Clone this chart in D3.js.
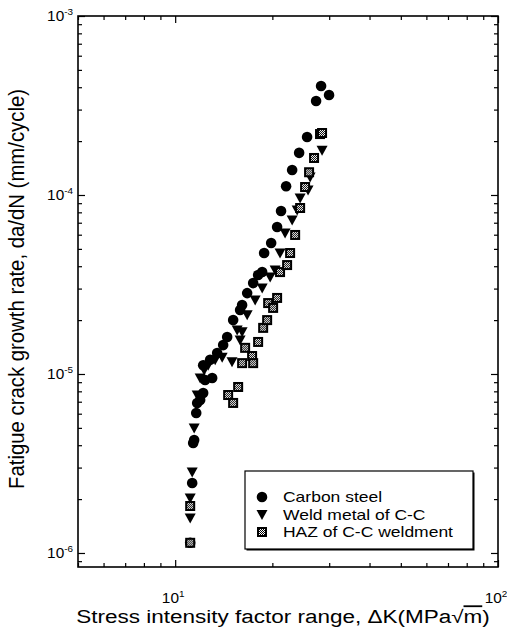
<!DOCTYPE html>
<html>
<head>
<meta charset="utf-8">
<script src="https://cdn.jsdelivr.net/npm/d3@7"></script>
<style>
  body { margin: 0; background: #fff; }
  text { font-family: "Liberation Sans", Arial, sans-serif; fill: #000; }
</style>
</head>
<body>
<svg id="chart" width="507" height="635"></svg>
<script>
// data: [deltaK (MPa sqrt m), da/dN (mm/cycle)]
var carbonSteel = [
  [11.13, 1.14e-6], [11.29, 2.46e-6], [11.37, 4.12e-6], [11.45, 4.28e-6], [11.62, 6.05e-6],
  [11.70, 6.89e-6], [11.95, 7.16e-6], [12.21, 7.83e-6], [12.38, 9.26e-6], [13.02, 9.50e-6],
  [12.21, 1.12e-5], [12.83, 1.20e-5], [13.49, 1.31e-5], [14.08, 1.45e-5], [14.49, 1.61e-5],
  [15.12, 2.00e-5], [15.89, 2.28e-5], [16.12, 2.43e-5], [16.71, 2.83e-5], [17.44, 3.22e-5],
  [18.07, 3.57e-5], [18.60, 3.71e-5], [18.86, 4.74e-5], [19.83, 5.39e-5], [20.69, 6.63e-5],
  [21.28, 8.14e-5], [22.06, 1.12e-4], [23.03, 1.38e-4], [24.21, 1.72e-4], [25.62, 2.11e-4],
  [27.32, 3.35e-4], [28.31, 4.06e-4], [29.97, 3.62e-4]
];
var weldMetal = [
  [11.13, 1.57e-6], [11.13, 2.03e-6], [11.29, 2.83e-6], [11.45, 4.99e-6], [11.70, 7.63e-6],
  [11.95, 9.50e-6], [12.30, 1.053e-5], [12.65, 1.12e-5], [13.30, 1.20e-5], [13.98, 1.24e-5],
  [15.00, 1.17e-5], [15.56, 1.76e-5], [15.89, 1.55e-5], [16.12, 1.72e-5], [16.71, 2.14e-5],
  [17.69, 2.59e-5], [18.60, 3.02e-5], [19.69, 3.48e-5], [20.40, 3.81e-5], [21.13, 4.74e-5],
  [21.90, 6.13e-5], [23.03, 7.25e-5], [23.87, 8.24e-5], [24.38, 9.62e-5], [25.80, 1.066e-4],
  [26.18, 1.26e-4], [28.51, 1.78e-4]
];
var hazWeldment = [
  [11.13, 1.14e-6], [11.13, 1.83e-6], [14.59, 7.63e-6], [15.12, 6.89e-6], [15.67, 8.46e-6],
  [16.12, 1.15e-5], [16.47, 1.40e-5], [17.31, 1.26e-5], [17.44, 1.15e-5], [18.07, 1.51e-5],
  [18.73, 1.81e-5], [19.27, 2.00e-5], [19.41, 2.49e-5], [20.11, 2.34e-5], [20.69, 2.66e-5],
  [21.13, 3.71e-5], [22.22, 4.06e-5], [22.70, 4.74e-5], [23.53, 5.98e-5], [24.38, 8.46e-5],
  [25.26, 1.108e-4], [25.99, 1.34e-4], [26.93, 1.61e-4], [28.10, 2.19e-4], [28.51, 2.22e-4]
];
var seriesNames = ["Carbon steel", "Weld metal of C-C", "HAZ of C-C weldment"];
var xMajor = [10, 100];
var xMajorLabels = ["1", "2"];
var yMajor = [1e-6, 1e-5, 1e-4, 1e-3];
var yMajorLabels = ["-6", "-5", "-4", "-3"];
var xDomain = [5, 100];
var yDomain = [8.35e-7, 1e-3];

var svg = d3.select("#chart");
var pLeft = 78, pRight = 498, pTop = 16, pBottom = 567;
// the scanned figure is a little wider than tall, text is stretched sideways
var stretch = 1.25;

var x = d3.scaleLog().domain(xDomain).range([pLeft, pRight]);
var y = d3.scaleLog().domain(yDomain).range([pBottom, pTop]);

// checker pattern for the HAZ markers
var pat = svg.append("defs").append("pattern")
  .attr("id", "chk").attr("width", 2).attr("height", 2)
  .attr("patternUnits", "userSpaceOnUse");
pat.append("rect").attr("width", 2).attr("height", 2).attr("fill", "#fff");
pat.append("rect").attr("width", 1).attr("height", 1).attr("fill", "#000");
pat.append("rect").attr("x", 1).attr("y", 1).attr("width", 1).attr("height", 1).attr("fill", "#000");

//minor ticks for log axes
function minorTicks(dom){
  var t = [];
  for (var e = -7; e <= 2; e++) {
    for (var m = 1; m <= 9; m++) {
      var v = m * Math.pow(10, e);
      if (v >= dom[0] * 0.999 && v <= dom[1] * 1.001) t.push(v);
    }
  }
  return t;
}
var isMajor = (list, v) => list.some(m => Math.abs(m - v) / m < 1e-6);
var xMinor = minorTicks(xDomain).filter(v => !isMajor(xMajor, v));
var yMinor = minorTicks(yDomain).filter(v => !isMajor(yMajor, v));

function tickAxis(axisFn, scale, vals, size, tr){
  svg.append("g")
    .attr("transform", tr)
    .call(axisFn(scale).tickValues(vals).tickSize(size).tickFormat(""))
    .call(g => g.select(".domain").remove())
    .selectAll("line").attr("stroke", "#000").attr("stroke-width", 1.2);
}
// ticks point inward on all four sides
tickAxis(d3.axisBottom, x, xMajor, -7, `translate(0,${pBottom})`);
tickAxis(d3.axisBottom, x, xMinor, -4, `translate(0,${pBottom})`);
tickAxis(d3.axisTop, x, xMajor, -7, `translate(0,${pTop})`);
tickAxis(d3.axisTop, x, xMinor, -4, `translate(0,${pTop})`);
tickAxis(d3.axisLeft, y, yMajor, -7, `translate(${pLeft},0)`);
tickAxis(d3.axisLeft, y, yMinor, -4, `translate(${pLeft},0)`);
tickAxis(d3.axisRight, y, yMajor, -7, `translate(${pRight},0)`);
tickAxis(d3.axisRight, y, yMinor, -4, `translate(${pRight},0)`);

// frame
svg.append("rect")
  .attr("x", pLeft).attr("y", pTop)
  .attr("width", pRight - pLeft).attr("height", pBottom - pTop)
  .attr("fill", "none").attr("stroke", "#000").attr("stroke-width", 1.6);

// tick labels with superscript exponents
xMajor.forEach(function(v, i){
  var t = svg.append("text")
    .attr("transform", `translate(${x(v) - 2},603) scale(1.1,1)`)
    .attr("text-anchor", "middle").style("font-size", "14px");
  t.append("tspan").text("10");
  t.append("tspan").attr("dy", -6).style("font-size", "9px").text(xMajorLabels[i]);
});
yMajor.forEach(function(v, i){
  var t = svg.append("text")
    .attr("transform", `translate(73,${y(v) + 5}) scale(1.1,1)`)
    .attr("text-anchor", "end").style("font-size", "14px");
  t.append("tspan").text("10");
  t.append("tspan").attr("dy", -6).style("font-size", "9px").text(yMajorLabels[i]);
});

// axis titles
svg.append("text")
  .attr("transform", `translate(24,289) scale(${stretch},1) rotate(-90)`)
  .attr("text-anchor", "middle").style("font-size", "17px")
  .attr("textLength", 400).attr("lengthAdjust", "spacingAndGlyphs")
  .text("Fatigue crack growth rate, da/dN (mm/cycle)");

var xt = svg.append("text")
  .attr("transform", `translate(283,623) scale(${stretch},1)`)
  .attr("text-anchor", "middle").style("font-size", "18px");
xt.append("tspan").text("Stress intensity factor range, \u0394K(MPa");
xt.append("tspan").text("\u221A");
xt.append("tspan").style("text-decoration", "overline").text("m");
xt.append("tspan").text(")");

// markers
var circle = d3.symbol().type(d3.symbolCircle).size(88);
function triDown(g){
  g.append("path").attr("d", "M-5.5,-4.5L5.5,-4.5L0,5.5Z").attr("fill", "#000");
}
function hazMark(g){
  g.append("rect").attr("x", -5).attr("y", -5).attr("width", 10).attr("height", 10).attr("fill", "#000");
  g.append("rect").attr("x", -3).attr("y", -3).attr("width", 6).attr("height", 6).attr("fill", "url(#chk)");
}

var plot = svg.append("g");
plot.selectAll(".cs").data(carbonSteel).join("path")
  .attr("class", "cs")
  .attr("transform", d => `translate(${x(d[0])},${y(d[1])})`)
  .attr("d", circle).attr("fill", "#000");
plot.selectAll(".wm").data(weldMetal).join("g")
  .attr("class", "wm")
  .attr("transform", d => `translate(${x(d[0])},${y(d[1])})`)
  .each(function(){ triDown(d3.select(this)); });
plot.selectAll(".hz").data(hazWeldment).join("g")
  .attr("class", "hz")
  .attr("transform", d => `translate(${x(d[0])},${y(d[1])})`)
  .each(function(){ hazMark(d3.select(this)); });

// legend
var lg = svg.append("g");
lg.append("rect").attr("x", 246.5).attr("y", 472.5).attr("width", 228).attr("height", 78).attr("fill", "#000");
lg.append("rect").attr("x", 245).attr("y", 471).attr("width", 228).attr("height", 78)
  .attr("fill", "#fff").attr("stroke", "#000").attr("stroke-width", 1.2);
var rows = [497, 514.5, 532];
seriesNames.forEach(function(name, i){
  var g = lg.append("g").attr("transform", `translate(262,${rows[i]})`);
  if (i === 0) g.append("path").attr("d", circle).attr("fill", "#000");
  else if (i === 1) triDown(g);
  else hazMark(g);
  lg.append("text")
    .attr("transform", `translate(283,${rows[i] + 5}) scale(${stretch},1)`)
    .style("font-size", "14px").text(name);
});
</script>
</body>
</html>
